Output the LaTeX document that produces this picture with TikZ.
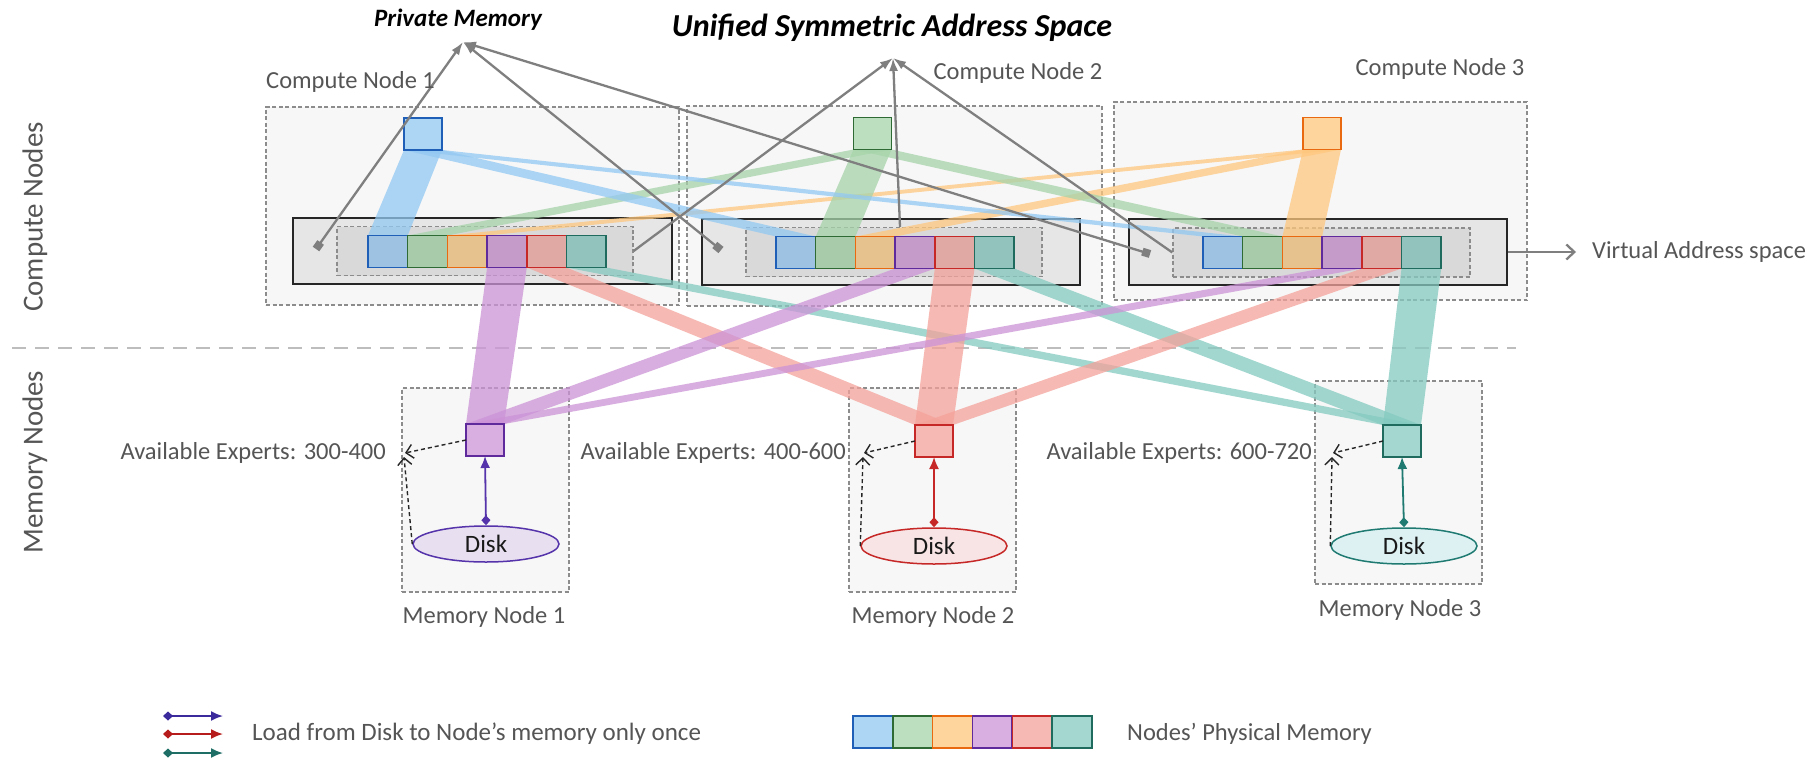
\documentclass[tikz,border=0pt]{standalone}
\usepackage{fontspec}
\setmainfont{Carlito}
\usetikzlibrary{arrows.meta,shapes.geometric}
\definecolor{labelgray}{HTML}{555555}
\definecolor{boxgray}{HTML}{8C8C8C}
\definecolor{bgA}{HTML}{F7F7F7}
\definecolor{bgB}{HTML}{E6E6E6}
\definecolor{bgC}{HTML}{D9D9D9}
\definecolor{arrowgray}{HTML}{7F7F7F}
\definecolor{sepgray}{HTML}{BDBDBD}
\definecolor{bBlue}{HTML}{1F5FB8}
\definecolor{bGreen}{HTML}{2E6B34}
\definecolor{bOrange}{HTML}{E8690F}
\definecolor{bPurple}{HTML}{5E2A9C}
\definecolor{bRed}{HTML}{C62828}
\definecolor{bTeal}{HTML}{1F6B5E}
\definecolor{lBlue}{HTML}{ADD6F5}
\definecolor{lGreen}{HTML}{BCDFBF}
\definecolor{lOrange}{HTML}{FFD59E}
\definecolor{lPurple}{HTML}{D9AEE0}
\definecolor{lRed}{HTML}{F7B9B3}
\definecolor{lTeal}{HTML}{A3D7D0}
\definecolor{rBlue}{HTML}{9EC3E2}
\definecolor{rGreen}{HTML}{A8CBA9}
\definecolor{rOrange}{HTML}{E6C28E}
\definecolor{rPurple}{HTML}{C59CC9}
\definecolor{rRed}{HTML}{E0A9A3}
\definecolor{rTeal}{HTML}{93C3BD}
\definecolor{baBlue}{RGB}{146,200,242}
\definecolor{baGreen}{RGB}{166,212,170}
\definecolor{baOrange}{RGB}{255,199,126}
\definecolor{baPurple}{RGB}{204,147,214}
\definecolor{baRed}{RGB}{244,162,154}
\definecolor{baTeal}{RGB}{132,202,192}
\definecolor{dPurple}{HTML}{5533AA}
\definecolor{dRed}{HTML}{C62828}
\definecolor{dTeal}{HTML}{1F7A72}
\definecolor{gPurple}{HTML}{3A2A9C}
\definecolor{gRed}{HTML}{B71C1C}
\definecolor{gTeal}{HTML}{1E6E66}
\definecolor{fPurple}{HTML}{E8E0F0}
\definecolor{fRed}{HTML}{F8E4E4}
\definecolor{fTeal}{HTML}{DDF1F3}
\pgfdeclarelayer{bg}
\pgfdeclarelayer{bands}
\pgfsetlayers{bg,bands,main}
\begin{document}
\begin{tikzpicture}[x=1pt,y=-1pt,
  outerbox/.style={draw=boxgray, line width=1.3pt, fill=bgA, dash pattern=on 4pt off 2.5pt, inner sep=0pt},
  solidbox/.style={draw=black!85, line width=2pt, fill=bgB, inner sep=0pt},
  innerdash/.style={draw=boxgray, line width=1.3pt, fill=bgC, dash pattern=on 4pt off 2.5pt, inner sep=0pt},
  sq/.style={line width=1.5pt, minimum width=39.7pt, minimum height=32pt, inner sep=0pt, outer sep=0pt},
  msq/.style={line width=1.5pt, minimum width=38pt, minimum height=32pt, inner sep=0pt, outer sep=0pt},
  lbl/.style={text=labelgray, font=\fontsize{24.5}{25}\selectfont, inner sep=0pt},
  title/.style={text=black, font=\bfseries\itshape\fontsize{#1}{#1}\selectfont, inner sep=0pt},
  band/.style={fill=#1, fill opacity=0.75},
  grayarrow/.style={draw=arrowgray, line width=2.3pt},
  disk/.style={ellipse, line width=1.5pt, minimum width=146pt, minimum height=36pt, inner sep=0pt, font=\fontsize{25}{25}\selectfont, text=black!90},
  loadarrow/.style={line width=1.8pt, {Diamond[length=10pt,width=9pt]}-{Latex[length=12pt,width=10pt]}},
  avail/.style={draw=black!85, line width=1.4pt, dash pattern=on 4pt off 3pt, -{Straight Barb[length=7pt,width=14pt]}}
]
\useasboundingbox (0,0) rectangle (1811,760);

% ---------- background boxes ----------
\begin{pgfonlayer}{bg}
\fill[white] (0,0) rectangle (1811,760);
\node[outerbox, minimum width=413pt, minimum height=198pt] (cn1) at (472.5,206) {};
\node[outerbox, minimum width=415pt, minimum height=200pt] (cn2) at (894.5,206) {};
\node[outerbox, minimum width=413pt, minimum height=198pt] (cn3) at (1320.5,201) {};
\node[outerbox, minimum width=167pt, minimum height=204pt] (mn1) at (485.5,490) {};
\node[outerbox, minimum width=167pt, minimum height=204pt] (mn2) at (932.5,490) {};
\node[outerbox, minimum width=167pt, minimum height=203pt] (mn3) at (1398.5,482.5) {};
\coordinate (sepL) at (12,348);
\coordinate (sepR) at (1516,348);
\draw[sepgray, line width=1.6pt, dash pattern=on 14pt off 9pt] (sepL) -- (sepR);
\node[solidbox, minimum width=379pt, minimum height=66pt] (va1) at (482.5,251) {};
\node[solidbox, minimum width=378pt, minimum height=66pt] (va2) at (891,252) {};
\node[solidbox, minimum width=378pt, minimum height=66pt] (va3) at (1318,252) {};
\node[innerdash, minimum width=296pt, minimum height=49pt] (ua1) at (485,251) {};
\node[innerdash, minimum width=296pt, minimum height=49pt] (ua2) at (894,252) {};
\node[innerdash, minimum width=297pt, minimum height=49pt] (ua3) at (1321.5,252.5) {};
\end{pgfonlayer}

% ---------- squares ----------
\foreach \c [count=\i from 0] in {Blue,Green,Orange,Purple,Red,Teal} {
  \node[sq, draw=b\c, fill=r\c] (c1-\c) at ({387.85+39.7*\i},251.5) {};
  \node[sq, draw=b\c, fill=r\c] (c2-\c) at ({795.85+39.7*\i},252.5) {};
  \node[sq, draw=b\c, fill=r\c] (c3-\c) at ({1222.85+39.7*\i},252.5) {};
  \node[sq, draw=b\c, fill=l\c] (lg-\c) at ({872.9+39.8*\i},732) {};
}
\node[msq, draw=bBlue, fill=lBlue] (t1) at (423,134) {};
\node[msq, draw=bGreen, fill=lGreen] (t2) at (872.5,133.5) {};
\node[msq, draw=bOrange, fill=lOrange] (t3) at (1322,133.5) {};
\node[msq, draw=bPurple, fill=lPurple] (m1) at (485,440) {};
\node[msq, draw=bRed, fill=lRed] (m2) at (934,441) {};
\node[msq, draw=bTeal, fill=lTeal] (m3) at (1402,441) {};

% ---------- bands ----------
\begin{pgfonlayer}{bands}
\foreach \j in {1,2,3} {
  \fill[band=baBlue] (t1.south west) -- (t1.south east) -- (c\j-Blue.north east) -- (c\j-Blue.north west) -- cycle;
  \fill[band=baGreen] (t2.south west) -- (t2.south east) -- (c\j-Green.north east) -- (c\j-Green.north west) -- cycle;
  \fill[band=baOrange] (t3.south west) -- (t3.south east) -- (c\j-Orange.north east) -- (c\j-Orange.north west) -- cycle;
  \fill[band=baPurple] (m1.north west) -- (m1.north east) -- (c\j-Purple.south east) -- (c\j-Purple.south west) -- cycle;
  \fill[band=baRed] (m2.north west) -- (m2.north east) -- (c\j-Red.south east) -- (c\j-Red.south west) -- cycle;
  \fill[band=baTeal] (m3.north west) -- (m3.north east) -- (c\j-Teal.south east) -- (c\j-Teal.south west) -- cycle;
}
\end{pgfonlayer}

% ---------- disks ----------
\node[disk, draw=dPurple, fill=fPurple] (disk1) at (486,544) {Disk};
\node[disk, draw=dRed, fill=fRed] (disk2) at (934,546) {Disk};
\node[disk, draw=dTeal, fill=fTeal] (disk3) at (1404,546) {Disk};
\draw[loadarrow, dPurple] (disk1.north) -- (m1.south);
\draw[loadarrow, dRed] (disk2.north) -- (m2.south);
\draw[loadarrow, dTeal] (disk3.north) -- (m3.south);

% ---------- availability arrows ----------
\coordinate (e1a) at (405,453);
\coordinate (e1b) at (404,457);
\coordinate (e2a) at (864,453);
\coordinate (e2b) at (863,457);
\coordinate (e3a) at (1333,453);
\coordinate (e3b) at (1332,457);
\draw[avail] (m1.west) -- (e1a);
\draw[avail] (disk1.west) -- (e1b);
\draw[avail] (m2.west) -- (e2a);
\draw[avail] (disk2.west) -- (e2b);
\draw[avail] (m3.west) -- (e3a);
\draw[avail] (disk3.west) -- (e3b);

% ---------- gray arrows ----------
\coordinate (pm) at (463,42);
\coordinate (us) at (893,58);
\coordinate (dot1) at (316,249);
\coordinate (dot2) at (721,250);
\coordinate (dot3) at (1150,254);
\foreach \d in {dot1,dot2,dot3}
  \draw[grayarrow, {Square[length=8pt,width=8pt]}-{Latex[length=13pt,width=9pt]}] (\d) -- (pm);
\draw[grayarrow, -{Latex[length=13pt,width=9pt]}] (ua1.east) -- (us);
\draw[grayarrow, -{Latex[length=13pt,width=9pt]}] ([xshift=6pt]ua2.north) -- (us);
\draw[grayarrow, -{Latex[length=13pt,width=9pt]}] (ua3.west) -- (us);
\coordinate (vaend) at (1576,252);
\draw[grayarrow, -{Straight Barb[length=8pt,width=15pt]}] (va3.east) -- (vaend);

% ---------- texts ----------
\node[title=25] (pmt) at (458,20) {Private Memory};
\node[title=32] (ust) at (892,28) {Unified Symmetric Address Space};
\node[lbl, anchor=west] (cnl1) at (266,82) {Compute Node 1};
\node[lbl] (cnl2) at (1018,73) {Compute Node 2};
\node[lbl] (cnl3) at (1440,69) {Compute Node 3};
\node[lbl, anchor=west] (vat) at (1592,252) {Virtual Address space};
\node[lbl, anchor=east] (ae1) at (386,453) {Available Experts: 300-400};
\node[lbl, anchor=east] (ae2) at (846,453) {Available Experts: 400-600};
\node[lbl, anchor=east] (ae3) at (1312,453) {Available Experts: 600-720};
\node[lbl] (mnl1) at (484,617) {Memory Node 1};
\node[lbl] (mnl2) at (933,617) {Memory Node 2};
\node[lbl] (mnl3) at (1400,610) {Memory Node 3};
\node[lbl, rotate=90, font=\fontsize{29}{29}\selectfont] (cns) at (35,217) {Compute Nodes};
\node[lbl, rotate=90, font=\fontsize{29}{29}\selectfont] (mns) at (35,462) {Memory Nodes};

% ---------- legend ----------
\coordinate (la1s) at (163,716); \coordinate (la1e) at (223,716);
\coordinate (la2s) at (163,734); \coordinate (la2e) at (223,734);
\coordinate (la3s) at (163,753); \coordinate (la3e) at (223,753);
\draw[loadarrow, gPurple] (la1s) -- (la1e);
\draw[loadarrow, gRed] (la2s) -- (la2e);
\draw[loadarrow, gTeal] (la3s) -- (la3e);
\node[lbl, anchor=west, font=\fontsize{25}{25}\selectfont] (lt1) at (252,734) {Load from Disk to Node’s memory only once};
\node[lbl, anchor=west] (lt2) at (1127,734) {Nodes’ Physical Memory};
\end{tikzpicture}
\end{document}
